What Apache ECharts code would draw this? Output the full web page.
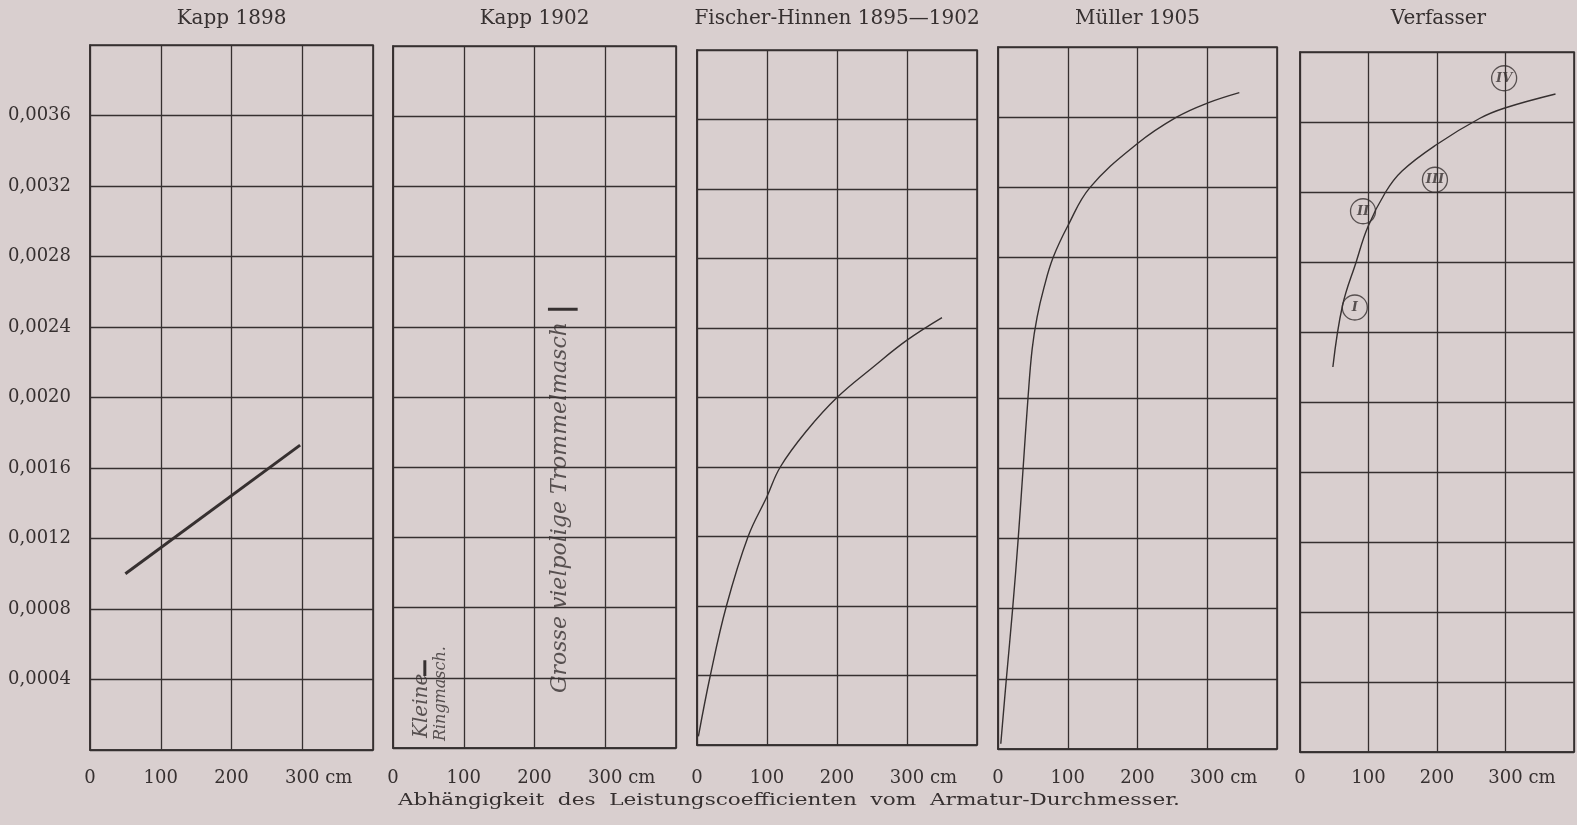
<!DOCTYPE html>
<html><head><meta charset="utf-8">
<script src="https://cdn.jsdelivr.net/npm/echarts@6/dist/echarts.min.js"></script>
<style>html,body{margin:0;padding:0;background:#d9cfcf}#c{width:1577px;height:825px}</style>
</head><body><div id="c"></div><script>
// ---------- data ----------
const panelTitles = ['Kapp 1898', 'Kapp 1902', 'Fischer-Hinnen 1895\u20141902', 'M\u00fcller 1905', 'Verfasser'];
const caption = 'Abh\u00e4ngigkeit  des  Leistungscoefficienten  vom  Armatur-Durchmesser.';
const xTickLabels = ['0', '100', '200', '300', ''];
const xUnit = 'cm';
const yTickLabels = ['', '0,0004', '0,0008', '0,0012', '0,0016', '0,0020', '0,0024', '0,0028', '0,0032', '0,0036', ''];

const kapp1898 = [[50, 0.00100], [297, 0.00173]];
const kleineBar = [[45, 0.00041], [45, 0.00050]];
const trommelBar = [[219, 0.00250], [261, 0.00250]];
const kapp1902Notes = [
  { name: 'Kleine', value: [41, 0.00024] },
  { name: 'Ringmasch.', value: [68, 0.00031] },
  { name: 'Grosse vielpolige Trommelmasch', value: [237, 0.00137] }
];
const fischerHinnen = [[2, 0.00005], [19, 0.00040], [42, 0.00080], [73, 0.00120], [100, 0.00143], [119, 0.00160],
  [157, 0.00181], [200, 0.00200], [250, 0.00217], [300, 0.00233], [350, 0.00246]];
const mueller = [[4, 0.00003], [12, 0.00040], [21, 0.00080], [29, 0.00120], [36, 0.00160], [43, 0.00200], [49, 0.00228],
  [56, 0.00246], [66, 0.00263], [79, 0.00280], [100, 0.00298], [132, 0.00320], [200, 0.00345], [256, 0.00360], [300, 0.00368], [346, 0.00374]];
const verfasser = [[48, 0.00220], [62, 0.00255], [82, 0.00280], [99, 0.00300], [125, 0.00320], [149, 0.00332],
  [199, 0.00347], [262, 0.00362], [299, 0.00368], [373, 0.00376]];
const verfasserPoints = [
  { name: 'I', value: [80, 0.00254] },
  { name: 'II', value: [92, 0.00309] },
  { name: 'III', value: [197, 0.00327] },
  { name: 'IV', value: [298, 0.00385] }
];

// ---------- styling / layout ----------
const INK = '#363030';
const FONT = 'DejaVu Serif';
const grids = [
  { left: 90, top: 45, width: 283, height: 705 },
  { left: 393, top: 46, width: 283, height: 702 },
  { left: 697, top: 50, width: 280, height: 695 },
  { left: 998, top: 47, width: 279, height: 702 },
  { left: 1300, top: 52, width: 277, height: 700 }
];
const labelMargins = [19, 21, 24, 20, 17];

const option = {
  backgroundColor: '#d9cfcf',
  animation: false,
  grid: grids.map(g => Object.assign({ show: true, borderColor: INK, borderWidth: 1.6, backgroundColor: 'transparent' }, g)),
  xAxis: grids.map((g, i) => ({
    type: 'value', gridIndex: i, min: 0, max: 400, interval: 100,
    axisLine: { show: true, lineStyle: { color: INK, width: 1.6 } },
    axisTick: { show: false },
    splitLine: { show: true, lineStyle: { color: INK, width: 1.3 } },
    axisLabel: {
      show: true, margin: labelMargins[i], color: INK, fontFamily: FONT, fontSize: 18,
      formatter: v => {
        const k = Math.round(v / 100);
        const t = xTickLabels[k];
        if (k === 3) return '{h| ' + xUnit + '}' + t + ' ' + xUnit;
        return t;
      },
      rich: { h: { color: 'transparent', fontFamily: FONT, fontSize: 18 } }
    }
  })),
  yAxis: grids.map((g, i) => ({
    type: 'value', gridIndex: i, min: 0, max: 0.004, interval: 0.0004,
    axisLine: { show: true, lineStyle: { color: INK, width: 1.6 } },
    axisTick: { show: false },
    splitLine: { show: true, lineStyle: { color: INK, width: 1.3 } },
    axisLabel: {
      show: i === 0, margin: 19, color: INK, fontFamily: FONT, fontSize: 18,
      formatter: v => yTickLabels[Math.round(v / 0.0004)] || ''
    }
  })),
  graphic: panelTitles.map((t, i) => ({
    type: 'text',
    x: grids[i].left + grids[i].width / 2, y: 9,
    style: { text: t, fill: INK, font: '20px "' + FONT + '"', align: 'center', textAlign: 'center', verticalAlign: 'top', textVerticalAlign: 'top' }
  })).concat([{
    type: 'text', x: 789, y: 801, scaleX: 1.27,
    style: { text: caption, fill: INK, font: '17px "' + FONT + '"', align: 'center', textAlign: 'center', verticalAlign: 'middle', textVerticalAlign: 'middle' }
  }]),
  series: [
    { type: 'line', xAxisIndex: 0, yAxisIndex: 0, data: kapp1898, showSymbol: false, lineStyle: { color: INK, width: 3 } },
    { type: 'line', xAxisIndex: 1, yAxisIndex: 1, data: kleineBar, showSymbol: false, lineStyle: { color: INK, width: 3 } },
    { type: 'line', xAxisIndex: 1, yAxisIndex: 1, data: trommelBar, showSymbol: false, lineStyle: { color: INK, width: 3 } },
    {
      type: 'scatter', xAxisIndex: 1, yAxisIndex: 1, symbolSize: 1, itemStyle: { color: 'transparent' },
      data: kapp1902Notes.map((d, j) => ({
        name: d.name, value: d.value,
        label: {
          show: true, position: 'inside', rotate: 90, formatter: '{b}', color: INK,
          fontFamily: FONT, fontStyle: 'italic', fontSize: [20, 16, 22][j]
        }
      }))
    },
    { type: 'line', xAxisIndex: 2, yAxisIndex: 2, data: fischerHinnen, showSymbol: false, smooth: 0.4, lineStyle: { color: INK, width: 1.4 } },
    { type: 'line', xAxisIndex: 3, yAxisIndex: 3, data: mueller, showSymbol: false, smooth: 0.4, lineStyle: { color: INK, width: 1.4 } },
    { type: 'line', xAxisIndex: 4, yAxisIndex: 4, data: verfasser, showSymbol: false, smooth: 0.4, lineStyle: { color: INK, width: 1.4 } },
    {
      type: 'scatter', xAxisIndex: 4, yAxisIndex: 4, symbol: 'circle', symbolSize: 25,
      itemStyle: { color: 'rgba(0,0,0,0)', borderColor: INK, borderWidth: 1.3 },
      label: { show: true, position: 'inside', formatter: '{b}', color: INK, fontFamily: FONT, fontStyle: 'italic', fontWeight: 'bold', fontSize: 13 },
      data: verfasserPoints
    }
  ]
};

const chart = echarts.init(document.getElementById('c'), null, { renderer: 'canvas' });
chart.setOption(option);
</script></body></html>
